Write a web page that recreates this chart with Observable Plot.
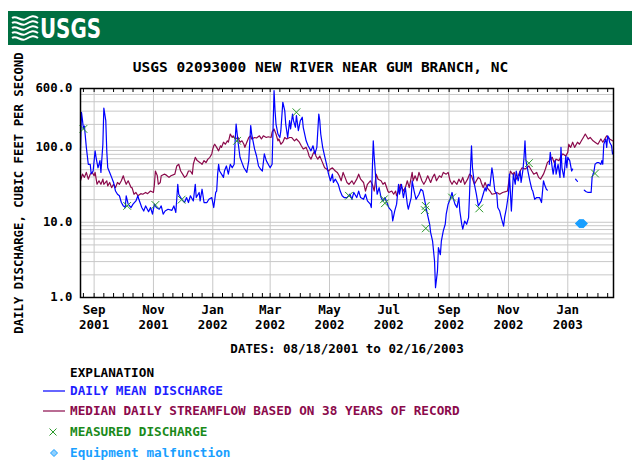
<!DOCTYPE html>
<html><head><meta charset="utf-8">
<script src="https://cdn.jsdelivr.net/npm/d3@7"></script>
<script src="https://cdn.jsdelivr.net/npm/@observablehq/plot@0.6"></script>
<style>
html,body{margin:0;padding:0;background:#fff;}
#page{position:relative;width:634px;height:462px;overflow:hidden;font-family:"DejaVu Sans Mono",monospace;font-weight:bold;}
#header{position:absolute;left:8px;top:11px;width:624px;height:34px;background:#006f41;}
#title{position:absolute;left:0;top:58px;width:641px;text-align:center;font-size:14.5px;line-height:18px;color:#000;}
#chart{position:absolute;left:0;top:0;}
.leg{position:absolute;left:70px;font-size:12.7px;line-height:16px;height:16px;white-space:nowrap;}
.sw{position:absolute;left:40px;width:28px;height:16px;}
</style></head>
<body>
<div id="page">
  <div id="chart"></div>
  <div id="header">
    <svg width="140" height="32" style="position:absolute;left:3px;top:1px">
      <g fill="none" stroke="#fff" stroke-width="2">
        <path d="M1,6 C6,3 10,10 15,7 S23,3 27,6"/>
        <path d="M1,11 C6,8 10,15 15,12 S23,8 27,11"/>
        <path d="M1,16 C6,13 10,20 15,17 S23,13 27,16"/>
        <path d="M1,21 C6,18 10,25 15,22 S23,18 27,21"/>
        <path d="M1,26 C6,23 10,30 15,27 S23,23 27,26"/>
      </g>
      <text x="29" y="26" font-family="'Liberation Sans Narrow','DejaVu Sans Condensed',sans-serif" font-weight="bold" font-size="27" fill="#fff" textLength="61" lengthAdjust="spacingAndGlyphs">USGS</text>
    </svg>
  </div>
  <div id="title">USGS 02093000 NEW RIVER NEAR GUM BRANCH, NC</div>
  <div class="leg" style="top:365px;color:#000">EXPLANATION</div>
  <svg class="sw" style="top:383px"><line x1="3" x2="25" y1="8" y2="8" stroke="#0000ff" stroke-width="1.2"/></svg>
  <div class="leg" style="top:383px;color:#1f1fff">DAILY MEAN DISCHARGE</div>
  <svg class="sw" style="top:403px"><line x1="3" x2="25" y1="8" y2="8" stroke="#8b0a4b" stroke-width="1.2"/></svg>
  <div class="leg" style="top:403px;color:#8b0a4b">MEDIAN DAILY STREAMFLOW BASED ON 38 YEARS OF RECORD</div>
  <svg class="sw" style="top:424px"><path d="M9.5,4.5L16.5,11.5M16.5,4.5L9.5,11.5" stroke="#2a9a2a" stroke-width="1"/></svg>
  <div class="leg" style="top:424px;color:#1a8a1a">MEASURED DISCHARGE</div>
  <svg class="sw" style="top:445px"><path d="M14,4.5L17.5,8L14,11.5L10.5,8Z" fill="#8fd0ff" stroke="#1a9fff" stroke-width="1"/></svg>
  <div class="leg" style="top:445px;color:#1a9fff">Equipment malfunction</div>
</div>
<script>
// ---- Daily mean discharge (ft3/s); null = no record
const dailyDates = [
"2001-08-18","2001-08-19","2001-08-20","2001-08-21","2001-08-22","2001-08-24","2001-08-26","2001-08-28","2001-08-29","2001-08-31",
"2001-09-02","2001-09-03","2001-09-05","2001-09-07","2001-09-08","2001-09-10","2001-09-11","2001-09-13","2001-09-14","2001-09-15","2001-09-17","2001-09-19","2001-09-21","2001-09-23","2001-09-25","2001-09-27","2001-09-29",
"2001-10-01","2001-10-03","2001-10-04","2001-10-06","2001-10-09","2001-10-11","2001-10-14","2001-10-16","2001-10-17","2001-10-20","2001-10-22","2001-10-24","2001-10-27","2001-10-29","2001-10-31",
"2001-11-02","2001-11-04","2001-11-07","2001-11-09","2001-11-11","2001-11-13","2001-11-16","2001-11-20","2001-11-22","2001-11-24","2001-11-26","2001-11-27","2001-11-30",
"2001-12-03","2001-12-05","2001-12-07","2001-12-09","2001-12-12","2001-12-14","2001-12-15","2001-12-18","2001-12-19","2001-12-21","2001-12-23","2001-12-26","2001-12-28","2001-12-31",
"2002-01-02","2002-01-04","2002-01-05","2002-01-06","2002-01-07","2002-01-08","2002-01-10","2002-01-12","2002-01-13","2002-01-15","2002-01-17","2002-01-19","2002-01-21","2002-01-23","2002-01-24","2002-01-25","2002-01-27","2002-01-29","2002-01-31",
"2002-02-02","2002-02-05","2002-02-07","2002-02-09","2002-02-10","2002-02-13","2002-02-15","2002-02-17","2002-02-19","2002-02-21","2002-02-23","2002-02-25","2002-02-27",
"2002-03-01","2002-03-03","2002-03-04","2002-03-05","2002-03-06","2002-03-07","2002-03-09","2002-03-11","2002-03-12","2002-03-14","2002-03-16","2002-03-17","2002-03-19","2002-03-21","2002-03-22","2002-03-24","2002-03-25","2002-03-27","2002-03-28","2002-03-30",
"2002-04-01","2002-04-03","2002-04-04","2002-04-07","2002-04-09","2002-04-12","2002-04-14","2002-04-16","2002-04-18","2002-04-20","2002-04-21","2002-04-22","2002-04-24","2002-04-26","2002-04-28","2002-04-30",
"2002-05-02","2002-05-04","2002-05-05","2002-05-07","2002-05-10","2002-05-12","2002-05-14","2002-05-16","2002-05-19","2002-05-22","2002-05-24","2002-05-26","2002-05-29","2002-05-31",
"2002-06-02","2002-06-05","2002-06-07","2002-06-09","2002-06-12","2002-06-13","2002-06-14","2002-06-15","2002-06-16","2002-06-18","2002-06-19","2002-06-21","2002-06-23","2002-06-25","2002-06-27","2002-06-29",
"2002-07-01","2002-07-04","2002-07-05","2002-07-07","2002-07-09","2002-07-11","2002-07-12","2002-07-14","2002-07-16","2002-07-18","2002-07-20","2002-07-21","2002-07-24","2002-07-25","2002-07-27","2002-07-29",
"2002-08-01","2002-08-03","2002-08-05","2002-08-07","2002-08-09","2002-08-12","2002-08-13","2002-08-15","2002-08-17","2002-08-18","2002-08-20","2002-08-21","2002-08-23","2002-08-24","2002-08-26","2002-08-28","2002-08-29","2002-08-31",
"2002-09-02","2002-09-04","2002-09-05","2002-09-07","2002-09-09","2002-09-11","2002-09-12","2002-09-14","2002-09-15","2002-09-17","2002-09-19","2002-09-21","2002-09-22","2002-09-23","2002-09-24","2002-09-25","2002-09-27","2002-09-29",
"2002-10-01","2002-10-04","2002-10-06","2002-10-08","2002-10-09","2002-10-11","2002-10-13","2002-10-15","2002-10-16","2002-10-18","2002-10-20","2002-10-21","2002-10-23","2002-10-25","2002-10-27","2002-10-28","2002-10-30",
"2002-11-01","2002-11-02","2002-11-04","2002-11-06","2002-11-08","2002-11-09","2002-11-11","2002-11-13","2002-11-14","2002-11-16","2002-11-17","2002-11-18","2002-11-19","2002-11-21","2002-11-23","2002-11-25","2002-11-26","2002-11-28","2002-11-30",
"2002-12-03","2002-12-05","2002-12-07","2002-12-08","2002-12-10","2002-12-11","2002-12-12","2002-12-13","2002-12-14","2002-12-16","2002-12-17","2002-12-19","2002-12-20","2002-12-22","2002-12-24","2002-12-25","2002-12-26","2002-12-28","2002-12-30","2002-12-31",
"2003-01-01","2003-01-03","2003-01-05","2003-01-06","2003-01-07","2003-01-09","2003-01-10","2003-01-11","2003-01-12","2003-01-18","2003-01-20","2003-01-22","2003-01-25","2003-01-26","2003-01-28","2003-01-29","2003-01-31",
"2003-02-02","2003-02-04","2003-02-05","2003-02-06","2003-02-07","2003-02-09","2003-02-10","2003-02-11","2003-02-12","2003-02-13","2003-02-15","2003-02-16"
];
const dailyMean = [
90,290,230,175,190,99,59,59,44,48,
89,73,53,66,46,109,330,224,89,53,46,39.5,33.8,26,23.6,22.5,18.3,
16.5,15.7,22.5,17.4,15.7,17.4,19.2,22.5,20.2,15.7,14.1,16.5,13.8,15.7,12.8,
17.4,15.7,14.9,16.5,12.8,14.1,14.9,14.4,16.5,13.5,32,23.6,20.2,
18.3,21.3,18.3,22.5,19.2,32,21.3,24.9,19.2,27.5,18.3,18.3,20.2,21.3,
15.7,24.9,26,43.6,59,48,43.6,39.5,48,56,43.6,59,53,59,121,202,116,73,62,
53,46,66,193,149,94,76,56,51,48,81,66,59,
53,59,183,564,305,202,149,134,165,394,305,202,134,224,174,275,224,183,262,165,
224,249,183,121,104,89,104,81,99,275,224,149,99,76,59,43.6,
35.6,43.6,33.8,37.4,32,26,22.5,21.3,21.3,23.6,20.2,24.9,21.3,26,
21.3,20.2,23.6,19.2,17.4,15.7,48,121,73,32,23.6,28.9,21.3,19.2,21.3,18.3,
15.7,14.1,10.4,14.1,17.4,32,23.6,32,21.3,28.9,17.4,14.9,21.3,35.6,26,20.2,
23.6,27.5,26,19.2,14.1,9.4,7.3,5.6,3.05,1.35,2.24,4.6,3.7,5.6,7.7,9.4,12.8,17.4,
20.2,24.9,21.3,17.4,15.7,21.3,14.1,9.4,8.1,10.4,9.4,11.5,23.6,53,104,53,32,23.6,
16.5,19.2,23.6,28.9,26,32,30.5,53,43.6,26,23.6,15.7,14.1,11,8.9,11.5,15.7,
23.6,43.6,14.1,43.6,32,48,35.6,48,33.8,51,73,121,66,48,35.6,27.5,26,20.2,21.3,
21.3,18.3,35.6,32,27.5,26.7,null,59,85,53,43.6,66,43.6,59,39.5,99,53,39.5,76,53,
73,66,48,51,null,37.4,36,35,null,26.7,25.5,24.9,24.9,39.5,48,59,62,
62,59,66,59,109,128,99,141,134,116,104,81
];

// ---- Median daily streamflow (38 years of record)
const medianDates = [
"2001-08-18","2001-08-20","2001-08-22","2001-08-24","2001-08-26","2001-08-28","2001-08-30",
"2001-09-01","2001-09-02","2001-09-04","2001-09-06","2001-09-08","2001-09-10","2001-09-11","2001-09-14","2001-09-15","2001-09-17","2001-09-19","2001-09-21","2001-09-23","2001-09-25","2001-09-27","2001-09-29",
"2001-10-01","2001-10-02","2001-10-04","2001-10-06","2001-10-09","2001-10-10","2001-10-12","2001-10-14","2001-10-16","2001-10-19","2001-10-21","2001-10-24","2001-10-26","2001-10-29",
"2001-11-01","2001-11-02","2001-11-03","2001-11-05","2001-11-06","2001-11-08","2001-11-09","2001-11-12","2001-11-14","2001-11-17","2001-11-19","2001-11-23","2001-11-25","2001-11-27","2001-11-29",
"2001-12-01","2001-12-03","2001-12-05","2001-12-07","2001-12-09","2001-12-11","2001-12-12","2001-12-14","2001-12-16","2001-12-19","2001-12-21","2001-12-23","2001-12-25","2001-12-27","2001-12-29","2001-12-31",
"2002-01-01","2002-01-02","2002-01-03","2002-01-05","2002-01-07","2002-01-09","2002-01-10","2002-01-12","2002-01-14","2002-01-16","2002-01-17","2002-01-19","2002-01-21","2002-01-22","2002-01-24","2002-01-27","2002-01-29","2002-01-31",
"2002-02-02","2002-02-03","2002-02-05","2002-02-07","2002-02-09","2002-02-10","2002-02-13","2002-02-15","2002-02-18","2002-02-20","2002-02-22","2002-02-25","2002-02-27",
"2002-03-02","2002-03-03","2002-03-05","2002-03-07","2002-03-09","2002-03-10","2002-03-12","2002-03-14","2002-03-16","2002-03-18","2002-03-21","2002-03-23","2002-03-26","2002-03-28","2002-03-31",
"2002-04-02","2002-04-04","2002-04-07","2002-04-09","2002-04-10","2002-04-12","2002-04-14","2002-04-16","2002-04-17","2002-04-19","2002-04-21","2002-04-23","2002-04-26","2002-04-28","2002-04-30",
"2002-05-02","2002-05-04","2002-05-07","2002-05-09","2002-05-11","2002-05-13","2002-05-15","2002-05-17","2002-05-19","2002-05-21","2002-05-24","2002-05-26","2002-05-29","2002-05-31",
"2002-06-02","2002-06-05","2002-06-07","2002-06-09","2002-06-12","2002-06-14","2002-06-16","2002-06-18","2002-06-20","2002-06-23","2002-06-25","2002-06-27","2002-06-30",
"2002-07-01","2002-07-04","2002-07-06","2002-07-08","2002-07-09","2002-07-11","2002-07-13","2002-07-16","2002-07-18","2002-07-20","2002-07-22","2002-07-25","2002-07-26","2002-07-28","2002-07-30",
"2002-08-01","2002-08-04","2002-08-06","2002-08-08","2002-08-10","2002-08-13","2002-08-15","2002-08-17","2002-08-19","2002-08-22","2002-08-24","2002-08-26","2002-08-29","2002-08-31",
"2002-09-02","2002-09-04","2002-09-06","2002-09-09","2002-09-11","2002-09-13","2002-09-15","2002-09-17","2002-09-20","2002-09-22","2002-09-24","2002-09-27","2002-09-29",
"2002-10-01","2002-10-03","2002-10-04","2002-10-06","2002-10-08","2002-10-10","2002-10-13","2002-10-15","2002-10-18","2002-10-20","2002-10-23","2002-10-26","2002-10-29","2002-10-31",
"2002-11-02","2002-11-03","2002-11-05","2002-11-07","2002-11-09","2002-11-11","2002-11-13","2002-11-15","2002-11-18","2002-11-20","2002-11-22","2002-11-25","2002-11-27","2002-11-30",
"2002-12-02","2002-12-04","2002-12-07","2002-12-09","2002-12-11","2002-12-13","2002-12-16","2002-12-18","2002-12-20","2002-12-23","2002-12-25","2002-12-27","2002-12-30",
"2003-01-01","2003-01-02","2003-01-04","2003-01-06","2003-01-08","2003-01-11","2003-01-13","2003-01-15","2003-01-17","2003-01-19","2003-01-22","2003-01-24","2003-01-27","2003-01-29",
"2003-02-01","2003-02-04","2003-02-06","2003-02-08","2003-02-10","2003-02-13","2003-02-16"
];
const medianFlow = [
35.6,43.6,39.5,46,37.4,43.6,46,
41.5,46,32,35.6,32,37.4,32,35.6,30.5,33.8,28.9,32,28.9,33.8,32,35.6,
41.5,37.4,32,35.6,28.9,28.9,23.6,24.9,22.5,24,23.6,24.9,24,26,
24.9,32,48,41.5,32,33.8,41.5,43.6,42.6,39.5,41.5,43.6,56,59,48,
43.6,39.5,41.5,48,48,43.6,59,73,66,62,59,66,62,69,73,81,
94,104,109,99,89,104,99,116,109,121,116,149,134,141,128,134,116,121,
109,99,116,134,141,128,134,132,141,128,141,134,137,
134,158,174,149,121,128,109,116,134,128,134,134,121,128,116,
104,94,99,85,76,69,81,89,76,69,76,66,53,51,48,
51,53,48,46,41.5,35.6,46,39.5,33.8,32,35.6,32,37.4,43.6,
37.4,33.8,26,32,35.6,32,26,43.6,37.4,35.6,32,33.8,26,
24.9,26,23.6,26,22.5,26,32,26,28.9,35.6,28.9,46,35.6,41.5,35.6,
46,35.6,32,35.6,41.5,33.8,39.5,43.6,35.6,41.5,39.5,46,43.6,46,
35.6,32,35.6,32,37.4,33.8,39.5,32,37.4,43.6,41.5,32,35.6,
39.5,37.4,33.8,28.9,33.8,28.9,26,23.6,24,24.9,23.6,24.9,25.5,26,
39.5,48,43.6,46,37.4,41.5,48,53,51,53,56,48,43.6,46,
39.5,37.4,43.6,51,62,66,73,62,69,66,76,81,76,
85,109,99,116,99,116,109,121,134,149,128,134,121,116,
109,128,116,128,141,128,121
];

// ---- Measured discharge
const measuredDates = ["2001-08-21","2001-10-05","2001-11-03","2001-11-30","2002-01-26","2002-03-28","2002-05-21","2002-06-26","2002-06-27","2002-08-07","2002-08-08","2002-08-08","2002-09-04","2002-10-02","2002-11-22","2003-01-29"];
const measuredFlow  = [174,16.5,17,20,121,290,22.5,20.2,17.9,14.5,16.5,8.3,21.3,15.3,61,44.5];

// ---- Equipment malfunction markers
const malfunctionDates = ["2003-01-13","2003-01-14","2003-01-15","2003-01-16","2003-01-17"];
const malfunctionFlow  = [9.6,9.6,9.6,9.6,9.6];

// ---- Axis ticks / labels
const majorTickDates = ["2001-09-01","2001-11-01","2002-01-01","2002-03-01","2002-05-01","2002-07-01","2002-09-01","2002-11-01","2003-01-01"];
const yTickValues = [1, 10, 100, 600];
const xDomain = ["2001-08-18","2003-02-17"];
const yDomain = [1, 600];
const titleY = "DAILY DISCHARGE, CUBIC FEET PER SECOND";
const titleX = "DATES: 08/18/2001 to 02/16/2003";

const toRows = (ds, vs) => ds.map((d, i) => ({date: new Date(d), value: vs[i]}));
const daily = toRows(dailyDates, dailyMean);
const median = toRows(medianDates, medianFlow);
const measured = toRows(measuredDates, measuredFlow);
const malfunction = toRows(malfunctionDates, malfunctionFlow);

const x0 = new Date(xDomain[0]), x1 = new Date(xDomain[1]);
const major = majorTickDates.map(d => new Date(d));
const minor = [];
for (const m of d3.utcMonth.range(d3.utcMonth.floor(x0), x1)) {
  for (const k of [0, 10, 20]) {
    const t = d3.utcDay.offset(m, k);
    if (t > x0 && t < x1) minor.push(t);
  }
}
const gridVals = [];
for (const p of [1, 10, 100]) for (let k = 1; k <= 9; k++) { const v = k * p; if (v > 1 && v < 600) gridVals.push(v); }

const W = 634, H = 362, MT = 88, MB = 65, ML = 80, MR = 21;
const frameH = H - MT - MB, tickLen = 4;

const chart = Plot.plot({
  width: W, height: H,
  marginTop: MT, marginBottom: MB, marginLeft: ML, marginRight: MR,
  style: {fontFamily: "'DejaVu Sans Mono', monospace", fontWeight: "bold", fontSize: "12.5px", background: "transparent", color: "#000", overflow: "visible"},
  x: {type: "utc", domain: [x0, x1]},
  y: {type: "log", domain: yDomain},
  marks: [
    Plot.gridY(gridVals, {stroke: "#c8c8c8", strokeOpacity: 1}),
    Plot.gridX(major, {stroke: "#c8c8c8", strokeOpacity: 1}),
    Plot.line(median, {x: "date", y: "value", stroke: "#8b0a4b", strokeWidth: 1.2}),
    Plot.line(daily, {x: "date", y: "value", stroke: "#0000ff", strokeWidth: 1.2}),
    Plot.dot(measured, {x: "date", y: "value", symbol: "times", r: 3.6, stroke: "#2a9a2a", strokeWidth: 1}),
    Plot.dot(malfunction, {x: "date", y: "value", symbol: "diamond2", r: 3.2, fill: "#1a9fff", stroke: "#1a9fff"}),
    // short inward minor ticks on bottom and top edges
    Plot.tickX(minor, {x: d => d, insetTop: frameH - tickLen, stroke: "#000"}),
    Plot.tickX(minor, {x: d => d, insetBottom: frameH - tickLen, stroke: "#000"}),
    Plot.frame({stroke: "#000", strokeWidth: 1.5}),
    Plot.axisX(major, {anchor: "bottom", tickSize: 0, tickPadding: 6, tickFormat: d3.utcFormat("%b\n%Y"), lineHeight: 1.2,
      label: titleX, labelAnchor: "center", labelOffset: 55, labelArrow: "none"}),
    Plot.axisY(yTickValues, {anchor: "left", tickSize: 0, tickPadding: 8, fontSize: 12.3, tickFormat: () => "",
      label: titleY, labelAnchor: "center", labelOffset: 66, labelArrow: "none"}),
    Plot.text(yTickValues, {y: d => d, text: d => d.toFixed(1), frameAnchor: "left", textAnchor: "end", dx: -8, fontSize: 12.3, fill: "#000"})
  ]
});
document.getElementById("chart").appendChild(chart);
</script>
</body></html>
